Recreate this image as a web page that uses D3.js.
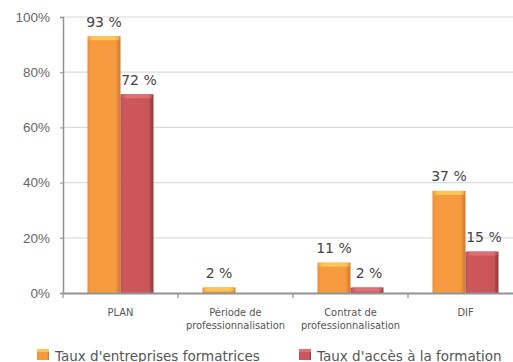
<!DOCTYPE html>
<html>
<head>
<meta charset="utf-8">
<script src="https://cdn.jsdelivr.net/npm/d3@7"></script>
<style>
  html, body { margin: 0; padding: 0; background: #fff; overflow: hidden; }
  svg { display: block; font-family: "DejaVu Sans Condensed", "DejaVu Sans", sans-serif; }
</style>
</head>
<body>
<svg id="chart" width="513" height="362"></svg>
<script>
// Categories (multi-line labels) and series values, in percent
const categories = ["PLAN", "Période de\nprofessionnalisation", "Contrat de\nprofessionnalisation", "DIF"];
const entreprisesFormatrices = [93, 2, 11, 37];
const accesFormation = [72, null, 2, 15];
const seriesNames = ["Taux d'entreprises formatrices", "Taux d'accès à la formation"];
const yTicks = [0, 20, 40, 60, 80, 100];

const svg = d3.select("#chart");
const plotLeft = 63, plotRight = 523, plotTop = 17, plotBottom = 293;

const x = d3.scaleBand().domain(categories).range([plotLeft, plotRight]).paddingInner(0).paddingOuter(0);
const y = d3.scaleLinear().domain([0, 100]).range([plotBottom, plotTop]);
const barW = 33;

// Gradients that give bars their bevelled look
const defs = svg.append("defs");
function bevel(id, stops) {
  const g = defs.append("linearGradient").attr("id", id).attr("x1", 0).attr("x2", 1).attr("y1", 0).attr("y2", 0);
  stops.forEach(s => g.append("stop").attr("offset", s[0]).attr("stop-color", s[1]));
}
bevel("gOrange", [[0, "#e8893a"], [0.08, "#f69a3f"], [0.85, "#f59a3e"], [0.93, "#e08632"], [1, "#c97a3a"]]);
bevel("gRed", [[0, "#b84c50"], [0.08, "#cc585c"], [0.85, "#ca565a"], [0.93, "#a94347"], [1, "#8f3a3d"]]);
bevel("gOrangeTop", [[0, "#f7a848"], [0.15, "#ffc555"], [0.85, "#ffc555"], [1, "#eea04a"]]);
bevel("gRedTop", [[0, "#c4565a"], [0.15, "#dd7074"], [0.85, "#dd7074"], [1, "#b84e52"]]);

// Gridlines
svg.append("g")
  .selectAll("line").data(yTicks.filter(d => d > 0)).join("line")
  .attr("x1", plotLeft).attr("x2", plotRight)
  .attr("y1", d => y(d)).attr("y2", d => y(d))
  .attr("stroke", "#dcdcdc").attr("stroke-width", 1.2);

// Y axis
const yAxis = d3.axisLeft(y).tickValues(yTicks).tickFormat(d => d + "%").tickSize(3).tickPadding(10);
const yg = svg.append("g").attr("transform", `translate(${plotLeft},0)`).call(yAxis);
yg.select(".domain").attr("stroke", "#8e9398").attr("stroke-width", 1.5);
yg.selectAll(".tick line").attr("stroke", "#8e9398");
yg.selectAll("text").attr("fill", "#666").attr("font-size", 13.5);

// Bars
const series = [
  { values: entreprisesFormatrices, fill: "url(#gOrange)", cap: "url(#gOrangeTop)", off: -barW },
  { values: accesFormation, fill: "url(#gRed)", cap: "url(#gRedTop)", off: 0 }
];
const cx = c => x(c) + x.bandwidth() / 2;

series.forEach(s => {
  const data = categories.map((c, i) => ({ c, v: s.values[i] })).filter(d => d.v != null);
  const g = svg.append("g");
  g.selectAll("rect.body").data(data).join("rect").attr("class", "body")
    .attr("x", d => cx(d.c) + s.off).attr("width", barW)
    .attr("y", d => y(d.v)).attr("height", d => y(0) - y(d.v))
    .attr("fill", s.fill);
  g.selectAll("rect.cap").data(data).join("rect").attr("class", "cap")
    .attr("x", d => cx(d.c) + s.off + 1).attr("width", barW - 2)
    .attr("y", d => y(d.v)).attr("height", d => Math.min(4, y(0) - y(d.v)))
    .attr("rx", 1.5)
    .attr("fill", s.cap);
  g.selectAll("text").data(data).join("text")
    .attr("x", d => cx(d.c) + s.off + barW / 2 + (s.off === 0 ? 2 : 0))
    .attr("y", d => y(d.v) - 9.5)
    .attr("text-anchor", "middle")
    .attr("fill", "#444").attr("font-size", 14)
    .style("font-family", "'DejaVu Sans', sans-serif")
    .text(d => d.v + " %");
});

// X axis
const xAxis = d3.axisBottom(x).tickSize(0).tickFormat("");
const xg = svg.append("g").attr("transform", `translate(0,${plotBottom})`).call(xAxis);
xg.select(".domain").attr("stroke", "#8e9398").attr("stroke-width", 2);
// Separator ticks at band boundaries
svg.append("g").selectAll("line").data(categories).join("line")
  .attr("x1", d => x(d)).attr("x2", d => x(d))
  .attr("y1", plotBottom).attr("y2", plotBottom + 5)
  .attr("stroke", "#8e9398").attr("stroke-width", 1.2);

// Category labels, one text element per line
const catLabels = svg.append("g");
categories.forEach(c => {
  c.split("\n").forEach((line, i) => {
    catLabels.append("text")
      .attr("x", cx(c)).attr("y", 315.5 + i * 13)
      .attr("text-anchor", "middle")
      .attr("fill", "#555").attr("font-size", 11)
      .text(line);
  });
});

// Legend
const legend = [
  { name: seriesNames[0], fill: "url(#gOrange)", x: 37 },
  { name: seriesNames[1], fill: "url(#gRed)", x: 299 }
];
const lg = svg.append("g").selectAll("g").data(legend).join("g")
  .attr("transform", d => `translate(${d.x},349)`);
lg.append("rect").attr("width", 12).attr("height", 11).attr("fill", d => d.fill);
lg.append("rect").attr("width", 12).attr("height", 3).attr("fill", (d, i) => i === 0 ? "#ffc555" : "#dd7074");
lg.append("text").attr("x", 18).attr("y", 11.5).attr("fill", "#555").attr("font-size", 13.5)
  .style("font-family", "'DejaVu Sans', sans-serif")
  .text(d => d.name);
</script>
</body>
</html>
